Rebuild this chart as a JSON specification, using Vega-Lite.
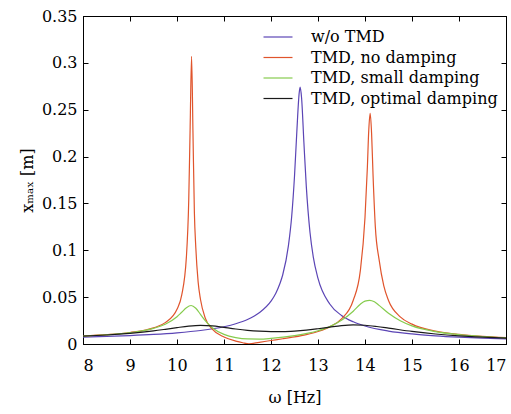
{
  "$schema": "https://vega.github.io/schema/vega-lite/v6.json",
  "width": 423,
  "height": 328,
  "autosize": {"type": "none"},
  "padding": {"left": 83, "top": 16, "right": 5, "bottom": 70},
  "config": {
    "font": "DejaVu Serif",
    "view": {"stroke": "#000", "strokeWidth": 1},
    "axis": {"grid": false, "domainColor": "#000", "tickColor": "#000", "labelColor": "#000", "titleColor": "#000", "labelFont": "DejaVu Serif", "titleFont": "DejaVu Serif", "labelFontSize": 16, "titleFontSize": 16, "titleFontWeight": "normal", "tickSize": -5}
  },
  "data": {"values": [
    {"s": "w/o TMD", "f": 8, "v": 0.0074},
    {"s": "w/o TMD", "f": 8.5, "v": 0.00811},
    {"s": "w/o TMD", "f": 9, "v": 0.00902},
    {"s": "w/o TMD", "f": 9.5, "v": 0.01022},
    {"s": "w/o TMD", "f": 10, "v": 0.01191},
    {"s": "w/o TMD", "f": 10.5, "v": 0.0144},
    {"s": "w/o TMD", "f": 11, "v": 0.01844},
    {"s": "w/o TMD", "f": 11.25, "v": 0.0216},
    {"s": "w/o TMD", "f": 11.5, "v": 0.02612},
    {"s": "w/o TMD", "f": 11.75, "v": 0.0333},
    {"s": "w/o TMD", "f": 12, "v": 0.0457},
    {"s": "w/o TMD", "f": 12.1, "v": 0.0539},
    {"s": "w/o TMD", "f": 12.19, "v": 0.0645},
    {"s": "w/o TMD", "f": 12.25, "v": 0.0739},
    {"s": "w/o TMD", "f": 12.37, "v": 0.1047},
    {"s": "w/o TMD", "f": 12.44, "v": 0.136},
    {"s": "w/o TMD", "f": 12.5, "v": 0.179},
    {"s": "w/o TMD", "f": 12.55, "v": 0.227},
    {"s": "w/o TMD", "f": 12.6, "v": 0.268},
    {"s": "w/o TMD", "f": 12.62, "v": 0.274},
    {"s": "w/o TMD", "f": 12.65, "v": 0.263},
    {"s": "w/o TMD", "f": 12.7, "v": 0.215},
    {"s": "w/o TMD", "f": 12.75, "v": 0.169},
    {"s": "w/o TMD", "f": 12.83, "v": 0.119},
    {"s": "w/o TMD", "f": 12.9, "v": 0.0928},
    {"s": "w/o TMD", "f": 13, "v": 0.07},
    {"s": "w/o TMD", "f": 13.25, "v": 0.0427},
    {"s": "w/o TMD", "f": 13.5, "v": 0.0305},
    {"s": "w/o TMD", "f": 13.75, "v": 0.0237},
    {"s": "w/o TMD", "f": 14, "v": 0.0192},
    {"s": "w/o TMD", "f": 14.5, "v": 0.01383},
    {"s": "w/o TMD", "f": 15, "v": 0.01073},
    {"s": "w/o TMD", "f": 15.5, "v": 0.00871},
    {"s": "w/o TMD", "f": 16, "v": 0.00729},
    {"s": "w/o TMD", "f": 16.5, "v": 0.00624},
    {"s": "w/o TMD", "f": 17, "v": 0.00544},

    {"s": "TMD, no damping", "f": 8, "v": 0.00851},
    {"s": "TMD, no damping", "f": 8.5, "v": 0.00991},
    {"s": "TMD, no damping", "f": 9, "v": 0.01226},
    {"s": "TMD, no damping", "f": 9.5, "v": 0.01723},
    {"s": "TMD, no damping", "f": 9.75, "v": 0.02283},
    {"s": "TMD, no damping", "f": 10, "v": 0.0371},
    {"s": "TMD, no damping", "f": 10.1, "v": 0.0521},
    {"s": "TMD, no damping", "f": 10.2, "v": 0.093},
    {"s": "TMD, no damping", "f": 10.25, "v": 0.154},
    {"s": "TMD, no damping", "f": 10.28, "v": 0.232},
    {"s": "TMD, no damping", "f": 10.31, "v": 0.307},
    {"s": "TMD, no damping", "f": 10.34, "v": 0.225},
    {"s": "TMD, no damping", "f": 10.37, "v": 0.14},
    {"s": "TMD, no damping", "f": 10.4, "v": 0.103},
    {"s": "TMD, no damping", "f": 10.45, "v": 0.066},
    {"s": "TMD, no damping", "f": 10.5, "v": 0.0475},
    {"s": "TMD, no damping", "f": 10.6, "v": 0.0278},
    {"s": "TMD, no damping", "f": 10.75, "v": 0.01595},
    {"s": "TMD, no damping", "f": 11, "v": 0.00739},
    {"s": "TMD, no damping", "f": 11.25, "v": 0.00311},
    {"s": "TMD, no damping", "f": 11.4, "v": 0.00133},
    {"s": "TMD, no damping", "f": 11.53, "v": 0.0002},
    {"s": "TMD, no damping", "f": 11.75, "v": 0.00182},
    {"s": "TMD, no damping", "f": 12, "v": 0.00371},
    {"s": "TMD, no damping", "f": 12.25, "v": 0.00557},
    {"s": "TMD, no damping", "f": 12.5, "v": 0.00762},
    {"s": "TMD, no damping", "f": 12.75, "v": 0.01008},
    {"s": "TMD, no damping", "f": 13, "v": 0.01337},
    {"s": "TMD, no damping", "f": 13.25, "v": 0.01827},
    {"s": "TMD, no damping", "f": 13.5, "v": 0.02685},
    {"s": "TMD, no damping", "f": 13.75, "v": 0.0467},
    {"s": "TMD, no damping", "f": 13.9, "v": 0.078},
    {"s": "TMD, no damping", "f": 14, "v": 0.135},
    {"s": "TMD, no damping", "f": 14.05, "v": 0.188},
    {"s": "TMD, no damping", "f": 14.08, "v": 0.228},
    {"s": "TMD, no damping", "f": 14.11, "v": 0.246},
    {"s": "TMD, no damping", "f": 14.14, "v": 0.225},
    {"s": "TMD, no damping", "f": 14.17, "v": 0.182},
    {"s": "TMD, no damping", "f": 14.22, "v": 0.125},
    {"s": "TMD, no damping", "f": 14.3, "v": 0.09},
    {"s": "TMD, no damping", "f": 14.4, "v": 0.062},
    {"s": "TMD, no damping", "f": 14.5, "v": 0.0465},
    {"s": "TMD, no damping", "f": 14.75, "v": 0.029},
    {"s": "TMD, no damping", "f": 15, "v": 0.0212},
    {"s": "TMD, no damping", "f": 15.5, "v": 0.01379},
    {"s": "TMD, no damping", "f": 16, "v": 0.01022},
    {"s": "TMD, no damping", "f": 16.5, "v": 0.00811},
    {"s": "TMD, no damping", "f": 17, "v": 0.00671},

    {"s": "TMD, small damping", "f": 8, "v": 0.0085},
    {"s": "TMD, small damping", "f": 8.5, "v": 0.00988},
    {"s": "TMD, small damping", "f": 9, "v": 0.01214},
    {"s": "TMD, small damping", "f": 9.5, "v": 0.01666},
    {"s": "TMD, small damping", "f": 9.75, "v": 0.02109},
    {"s": "TMD, small damping", "f": 10, "v": 0.02916},
    {"s": "TMD, small damping", "f": 10.1, "v": 0.0339},
    {"s": "TMD, small damping", "f": 10.2, "v": 0.03874},
    {"s": "TMD, small damping", "f": 10.3, "v": 0.04106},
    {"s": "TMD, small damping", "f": 10.4, "v": 0.03815},
    {"s": "TMD, small damping", "f": 10.5, "v": 0.03152},
    {"s": "TMD, small damping", "f": 10.6, "v": 0.02486},
    {"s": "TMD, small damping", "f": 10.75, "v": 0.01738},
    {"s": "TMD, small damping", "f": 11, "v": 0.01031},
    {"s": "TMD, small damping", "f": 11.25, "v": 0.00685},
    {"s": "TMD, small damping", "f": 11.5, "v": 0.00537},
    {"s": "TMD, small damping", "f": 11.75, "v": 0.00524},
    {"s": "TMD, small damping", "f": 12, "v": 0.00598},
    {"s": "TMD, small damping", "f": 12.5, "v": 0.00894},
    {"s": "TMD, small damping", "f": 13, "v": 0.01417},
    {"s": "TMD, small damping", "f": 13.25, "v": 0.01851},
    {"s": "TMD, small damping", "f": 13.5, "v": 0.02523},
    {"s": "TMD, small damping", "f": 13.75, "v": 0.035},
    {"s": "TMD, small damping", "f": 13.9, "v": 0.0425},
    {"s": "TMD, small damping", "f": 14, "v": 0.0458},
    {"s": "TMD, small damping", "f": 14.1, "v": 0.0466},
    {"s": "TMD, small damping", "f": 14.2, "v": 0.045},
    {"s": "TMD, small damping", "f": 14.3, "v": 0.0412},
    {"s": "TMD, small damping", "f": 14.5, "v": 0.0328},
    {"s": "TMD, small damping", "f": 14.75, "v": 0.02485},
    {"s": "TMD, small damping", "f": 15, "v": 0.01935},
    {"s": "TMD, small damping", "f": 15.5, "v": 0.01322},
    {"s": "TMD, small damping", "f": 16, "v": 0.00999},
    {"s": "TMD, small damping", "f": 16.5, "v": 0.008},
    {"s": "TMD, small damping", "f": 17, "v": 0.00665},

    {"s": "TMD, optimal damping", "f": 8, "v": 0.0084},
    {"s": "TMD, optimal damping", "f": 8.5, "v": 0.0096},
    {"s": "TMD, optimal damping", "f": 9, "v": 0.0114},
    {"s": "TMD, optimal damping", "f": 9.5, "v": 0.014},
    {"s": "TMD, optimal damping", "f": 9.75, "v": 0.0157},
    {"s": "TMD, optimal damping", "f": 10, "v": 0.0175},
    {"s": "TMD, optimal damping", "f": 10.25, "v": 0.0191},
    {"s": "TMD, optimal damping", "f": 10.5, "v": 0.0199},
    {"s": "TMD, optimal damping", "f": 10.75, "v": 0.0194},
    {"s": "TMD, optimal damping", "f": 11, "v": 0.0177},
    {"s": "TMD, optimal damping", "f": 11.25, "v": 0.016},
    {"s": "TMD, optimal damping", "f": 11.5, "v": 0.0146},
    {"s": "TMD, optimal damping", "f": 11.75, "v": 0.0137},
    {"s": "TMD, optimal damping", "f": 12, "v": 0.0133},
    {"s": "TMD, optimal damping", "f": 12.25, "v": 0.0133},
    {"s": "TMD, optimal damping", "f": 12.5, "v": 0.0138},
    {"s": "TMD, optimal damping", "f": 12.75, "v": 0.0148},
    {"s": "TMD, optimal damping", "f": 13, "v": 0.0163},
    {"s": "TMD, optimal damping", "f": 13.25, "v": 0.018},
    {"s": "TMD, optimal damping", "f": 13.5, "v": 0.0196},
    {"s": "TMD, optimal damping", "f": 13.75, "v": 0.0204},
    {"s": "TMD, optimal damping", "f": 14, "v": 0.02},
    {"s": "TMD, optimal damping", "f": 14.25, "v": 0.0187},
    {"s": "TMD, optimal damping", "f": 14.5, "v": 0.017},
    {"s": "TMD, optimal damping", "f": 15, "v": 0.0134},
    {"s": "TMD, optimal damping", "f": 15.5, "v": 0.0107},
    {"s": "TMD, optimal damping", "f": 16, "v": 0.0087},
    {"s": "TMD, optimal damping", "f": 16.5, "v": 0.0073},
    {"s": "TMD, optimal damping", "f": 17, "v": 0.0062}
  ]},
  "layer": [
    {
      "mark": {"type": "line", "interpolate": "monotone", "strokeWidth": 1.2, "clip": true},
      "encoding": {
        "x": {"field": "f", "type": "quantitative", "scale": {"domain": [8, 17], "nice": false},
          "axis": {"orient": "bottom", "values": [8, 9, 10, 11, 12, 13, 14, 15, 16, 17], "labelPadding": 18, "title": "ω [Hz]", "titlePadding": 16}},
        "y": {"field": "v", "type": "quantitative", "scale": {"domain": [0, 0.35], "nice": false},
          "axis": {"orient": "left", "values": [0, 0.05, 0.1, 0.15, 0.2, 0.25, 0.3, 0.35], "format": "~g", "labelPadding": 11, "title": "xₘₐₓ [m]", "titlePadding": 6}},
        "color": {"field": "s", "type": "nominal",
          "scale": {"domain": ["w/o TMD", "TMD, no damping", "TMD, small damping", "TMD, optimal damping"], "range": ["#5b45b5", "#e0542c", "#86cc4e", "#1a1a1a"]},
          "legend": {"orient": "none", "legendX": 187, "legendY": 13, "title": null, "symbolType": "M-2,0H2", "symbolSize": 210, "symbolStrokeWidth": 1.2, "labelFontSize": 16, "labelFont": "DejaVu Serif", "labelColor": "#000", "labelOffset": 25, "labelLimit": 400, "rowPadding": 4.5}
        }
      }
    },
    {
      "mark": {"type": "line", "opacity": 0},
      "encoding": {
        "x": {"field": "f", "type": "quantitative", "scale": {"domain": [8, 17], "nice": false},
          "axis": {"orient": "top", "values": [8, 9, 10, 11, 12, 13, 14, 15, 16, 17], "labels": false, "title": null}},
        "y": {"field": "v", "type": "quantitative", "scale": {"domain": [0, 0.35], "nice": false},
          "axis": {"orient": "right", "values": [0, 0.05, 0.1, 0.15, 0.2, 0.25, 0.3, 0.35], "labels": false, "title": null}},
        "detail": {"field": "s"}
      }
    }
  ],
  "resolve": {"axis": {"x": "independent", "y": "independent"}}
}
